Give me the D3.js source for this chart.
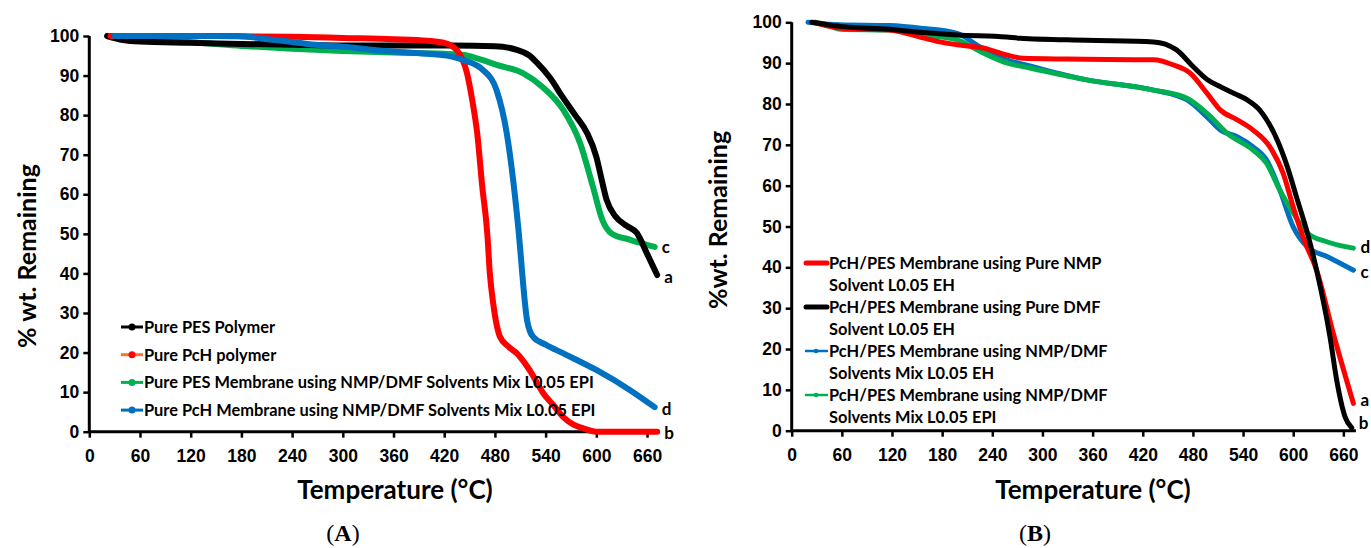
<!DOCTYPE html>
<html>
<head>
<meta charset="utf-8">
<script src="https://cdn.jsdelivr.net/npm/d3@7"></script>
<style>
  body { margin: 0; background: #fff; }
  svg { display: block; font-family: Lato, "Open Sans", sans-serif; }
  .tick text { font-weight: 700; font-size: 17.5px; fill: #000; }
</style>
</head>
<body>
<svg id="viz" width="1371" height="548"></svg>
<script>
// --- Data: [temperature °C, % wt. remaining] ---

// Panel A
const pesPolymerA = [[21,100],[40,99],[60,98.6],[120,98.3],[180,98],[240,97.8],[300,97.6],[360,97.6],[430,97.6],[480,97.4],[506,96.5],[520,95.2],[530,93.2],[545,89.5],[560,84.6],[575,80],[589,75.5],[600,69.5],[606,64],[612,58.7],[623,54.3],[636,52],[648,50.2],[660,45],[672,39.6]];
const pchPolymerA = [[25,100],[120,100],[240,99.8],[300,99.5],[360,99.2],[400,98.8],[421,98.2],[435,96.4],[447,90.6],[453,84],[459,75.5],[465,62],[471,50],[474,40],[478,32.4],[486,24],[496,21.5],[506,19.8],[521,15.6],[537,9.8],[550,6.5],[561,3.7],[573,1.8],[584,0.9],[600,0],[672,0]];
const pesMembraneA = [[30,100],[40,99.3],[60,98.9],[120,98.4],[180,97.5],[240,96.8],[300,96.2],[360,95.8],[420,95.5],[443,95.2],[460,94.3],[482,92.7],[513,90.6],[537,87],[561,81.3],[581,72.8],[596,61.9],[607,53.6],[618,50.1],[640,48.5],[669,46.7]];
const pchMembraneA = [[30,100],[60,100],[120,100],[176,100],[210,99.2],[240,98.5],[271,97.7],[300,97.3],[350,96.2],[400,95.5],[429,94.8],[443,93.9],[466,91.4],[482,86.3],[494,75.4],[502,62.8],[510,46],[512,40.8],[518,28.2],[525,24],[540,22],[561,19.8],[600,15.6],[640,10.5],[669,6.2]];

// Panel B
const nmpB = [[27,100],[45,99],[60,98.5],[117,98.1],[157,96.2],[177,95.2],[198,94.5],[229,93.7],[257,92],[277,91.2],[330,91],[433,90.8],[456,89.6],[477,87.5],[497,82.6],[513,78.5],[533,76.1],[552,73.6],[572,69.5],[588,63],[600,54.8],[613,46.7],[628,39.3],[649,23],[672,6.7]];
const dmfB = [[24,100],[40,99.5],[58,99],[117,98.3],[157,97.5],[198,96.9],[257,96.4],[273,96.1],[353,95.6],[433,95.2],[460,93.3],[481,89],[497,86],[513,84.2],[530,82.5],[545,81],[560,78.5],[581,71.1],[593,64.6],[605,56.5],[617,48.4],[628,39.3],[644,23],[652,12.4],[662,3.4],[670,0.7]];
const mixEhB = [[19.5,100],[40,99.6],[58,99.4],[117,99.2],[157,98.5],[198,97.3],[225,94],[257,90.8],[285,89.3],[353,85.9],[433,83.4],[473,81],[497,76.8],[513,73.6],[533,72],[552,69.5],[568,66.3],[584,58.9],[600,49.9],[617,45],[641,42.6],[672,39.3]];
const mixEpiB = [[28,100],[46,99.1],[58,98.3],[117,98.1],[157,96.9],[198,95.7],[229,92.5],[258,90],[285,88.8],[353,85.9],[433,83.4],[473,81.4],[497,77.7],[521,72.8],[552,68.7],[568,65.5],[584,58.9],[600,53.3],[617,48.4],[641,46.2],[672,44.7]];

const xTicks = [0, 60, 120, 180, 240, 300, 360, 420, 480, 540, 600, 660];
const yTicks = [0, 10, 20, 30, 40, 50, 60, 70, 80, 90, 100];

const legendA = ["Pure PES Polymer", "Pure PcH polymer", "Pure PES Membrane using NMP/DMF Solvents Mix L0.05 EPI", "Pure PcH Membrane using NMP/DMF Solvents Mix L0.05 EPI"];
const legendB = [
    ["PcH/PES Membrane using Pure NMP", "Solvent L0.05 EH"],
    ["PcH/PES Membrane using Pure DMF", "Solvent L0.05 EH"],
    ["PcH/PES Membrane using NMP/DMF", "Solvents Mix L0.05 EH"],
    ["PcH/PES Membrane using NMP/DMF", "Solvents Mix L0.05 EPI"]
];

const CONFIG = {
    colors: { black: "#000", red: "#ff0000", orange: "#f7752e", green: "#00b050", blue: "#0070c0" }
};

const svg = d3.select("#viz");

// --- Panel definitions ---
const panels = [
    {
        left: 89.3, right: 659.7, top: 36, bottom: 431.7,
        yTitle: "% wt. Remaining", yTitleX: 27, yTitleY: 256,
        xTitleX: 395, letter: "A", letterX: 343,
        width: 6,
        series: [
            { data: pesMembraneA, color: CONFIG.colors.green, label: "c", dy: 0 },
            { data: pesPolymerA, color: CONFIG.colors.black, label: "a", dy: 2 },
            { data: pchPolymerA, color: CONFIG.colors.red, label: "b", dy: 1 },
            { data: pchMembraneA, color: CONFIG.colors.blue, label: "d", dy: 2 }
        ]
    },
    {
        left: 791.7, right: 1355.9, top: 22.3, bottom: 430.7,
        yTitle: "%wt. Remaining", yTitleX: 718, yTitleY: 220,
        xTitleX: 1093, letter: "B", letterX: 1035,
        width: 5,
        series: [
            { data: mixEhB, color: CONFIG.colors.blue, label: "c", dy: 2 },
            { data: mixEpiB, color: CONFIG.colors.green, label: "d", dy: -1 },
            { data: nmpB, color: CONFIG.colors.red, label: "a", dy: -3 },
            { data: dmfB, color: CONFIG.colors.black, label: "b", dy: -5 }
        ]
    }
];

panels.forEach(p => drawPanel(p));

// --- Legends ---
const legA = svg.append("g");
const legAColors = [
    [CONFIG.colors.black, CONFIG.colors.black],
    [CONFIG.colors.orange, CONFIG.colors.red],
    [CONFIG.colors.green, CONFIG.colors.green],
    [CONFIG.colors.blue, CONFIG.colors.blue]
];
legendA.forEach((txt, i) => {
    const y = 327 + i * 27.7;
    legA.append("line").attr("x1", 121).attr("x2", 143).attr("y1", y).attr("y2", y)
        .attr("stroke", legAColors[i][0]).attr("stroke-width", 3);
    legA.append("circle").attr("cx", 132).attr("cy", y).attr("r", 3.5).attr("fill", legAColors[i][1]);
    legA.append("text").attr("x", 144).attr("y", y).attr("dy", "0.36em")
        .attr("font-size", 16.4).attr("font-weight", 700).text(txt);
});

const legB = svg.append("g");
const legBStyle = [
    { color: CONFIG.colors.red, w: 5, dot: false },
    { color: CONFIG.colors.black, w: 5, dot: false },
    { color: CONFIG.colors.blue, w: 2.5, dot: true },
    { color: CONFIG.colors.green, w: 2.5, dot: true }
];
legendB.forEach((lines, i) => {
    const y = 263 + i * 44;
    const s = legBStyle[i];
    legB.append("line").attr("x1", 806).attr("x2", 827).attr("y1", y).attr("y2", y)
        .attr("stroke", s.color).attr("stroke-width", s.w).attr("stroke-linecap", "round");
    if (s.dot) legB.append("circle").attr("cx", 816).attr("cy", y).attr("r", 2.3).attr("fill", s.color);
    lines.forEach((t, j) => {
        legB.append("text").attr("x", 829).attr("y", y + j * 22).attr("dy", "0.36em")
            .attr("font-size", 16.4).attr("font-weight", 700).text(t);
    });
});

// --- Helper Functions ---
function drawPanel(p) {
    const x = d3.scaleLinear().domain([0, 675]).range([p.left, p.right]);
    const y = d3.scaleLinear().domain([0, 100]).range([p.bottom, p.top]);
    const g = svg.append("g");

    const line = d3.line()
        .x(d => x(d[0]))
        .y(d => y(d[1]))
        .curve(d3.curveMonotoneX);

    // axes
    const xAxis = g.append("g")
        .attr("transform", `translate(0,${p.bottom})`)
        .call(d3.axisBottom(x).tickValues(xTicks).tickSize(6).tickPadding(12));
    const yAxis = g.append("g")
        .attr("transform", `translate(${p.left},0)`)
        .call(d3.axisLeft(y).tickValues(yTicks).tickSize(6).tickPadding(4));
    [xAxis, yAxis].forEach(a => {
        a.select(".domain").attr("stroke", "#000").attr("stroke-width", 3);
        a.selectAll(".tick line").attr("stroke", "#000").attr("stroke-width", 2.5);
    });
    xAxis.select(".domain").attr("d", `M${p.left},0H${p.right}`);
    yAxis.select(".domain").attr("d", `M0,${p.bottom}V${p.top}`);

    // curves
    g.append("g").selectAll("path")
        .data(p.series)
        .join("path")
        .attr("d", d => line(d.data))
        .attr("fill", "none")
        .attr("stroke", d => d.color)
        .attr("stroke-width", p.width)
        .attr("stroke-linecap", "round")
        .attr("stroke-linejoin", "round");

    // end labels
    g.append("g").selectAll("text")
        .data(p.series)
        .join("text")
        .attr("x", d => x(d.data[d.data.length - 1][0]) + 7)
        .attr("y", d => y(d.data[d.data.length - 1][1]) + d.dy)
        .attr("dy", "0.36em")
        .attr("font-size", 17)
        .attr("font-weight", 700)
        .text(d => d.label);

    // titles
    g.append("text")
        .attr("x", p.xTitleX).attr("y", 499)
        .attr("text-anchor", "middle")
        .attr("font-size", 26).attr("font-weight", 700)
        .text("Temperature (°C)");
    g.append("text")
        .attr("transform", `translate(${p.yTitleX},${p.yTitleY}) rotate(-90)`)
        .attr("text-anchor", "middle")
        .attr("dy", "0.36em")
        .attr("font-size", 25).attr("font-weight", 700)
        .text(p.yTitle);

    const cap = g.append("text")
        .attr("x", p.letterX).attr("y", 541)
        .attr("text-anchor", "middle")
        .attr("font-family", "'Liberation Serif', serif")
        .attr("font-size", 24);
    cap.append("tspan").text("(");
    cap.append("tspan").attr("font-weight", 700).text(p.letter);
    cap.append("tspan").text(")");
}
</script>
</body>
</html>
